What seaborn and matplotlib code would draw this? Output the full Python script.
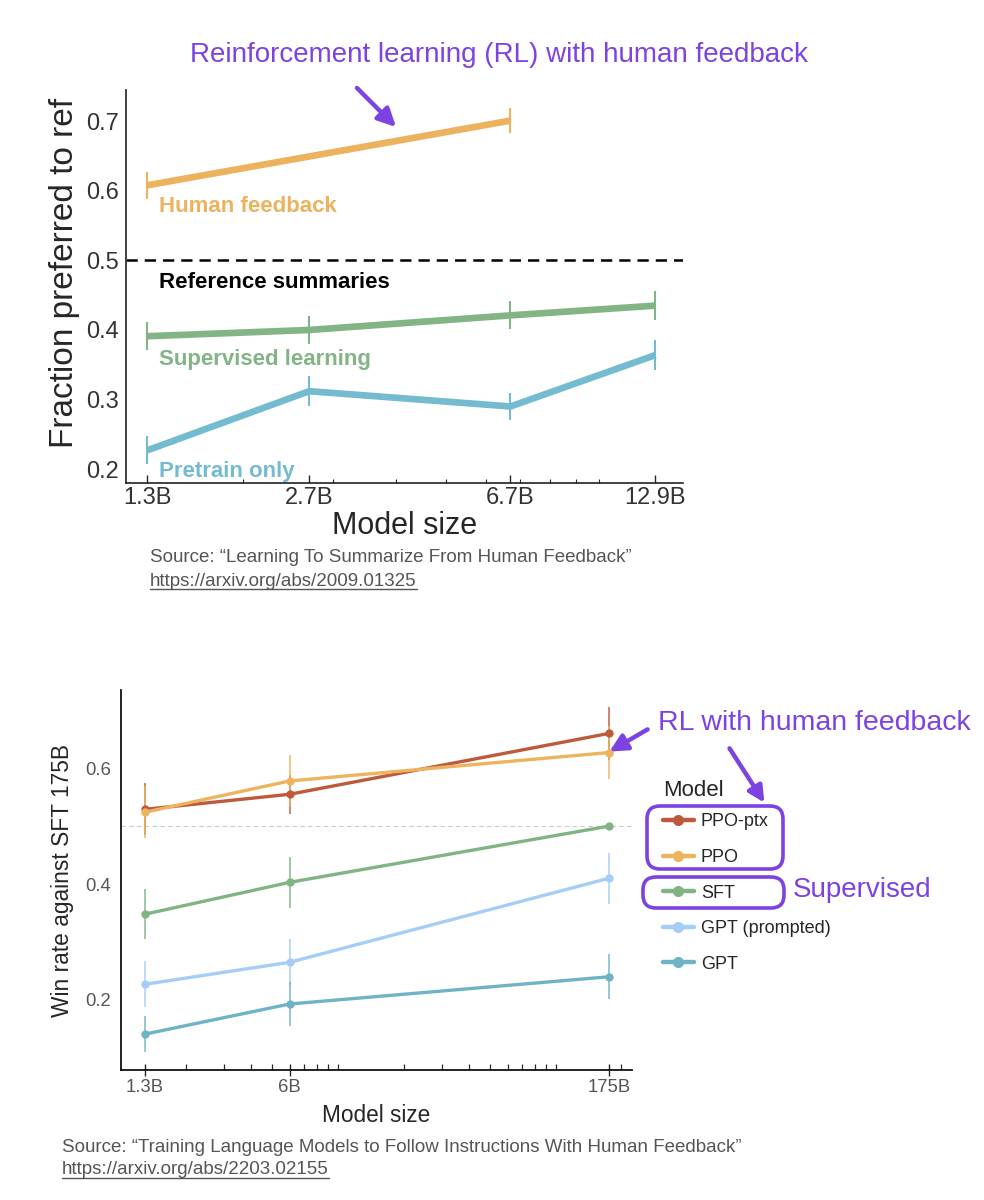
import matplotlib
matplotlib.use("Agg")
import matplotlib.pyplot as plt
import matplotlib.ticker as mticker
from matplotlib.patches import FancyBboxPatch, FancyArrowPatch
import pandas as pd
import seaborn as sns

# ---- top chart data (Learning to summarize) ----
top_sizes = [1.3, 2.7, 6.7, 12.9]
top_labels = ["1.3B", "2.7B", "6.7B", "12.9B"]
hf_sizes = [1.3, 6.7]
hf_vals = [0.608, 0.701]
hf_err = [0.019, 0.018]
sl_vals = [0.391, 0.400, 0.421, 0.435]
sl_err = [0.020, 0.020, 0.020, 0.021]
pt_vals = [0.227, 0.312, 0.290, 0.364]
pt_err = [0.020, 0.022, 0.020, 0.022]

# ---- bottom chart data (InstructGPT) ----
bot_sizes = [1.3, 6, 175]
bot_labels = ["1.3B", "6B", "175B"]
models = ["PPO-ptx", "PPO", "SFT", "GPT (prompted)", "GPT"]
ppo_ptx = [0.529, 0.555, 0.660]
ppo_ptx_err = [0.045, 0.034, 0.045]
ppo = [0.524, 0.578, 0.627]
ppo_err = [0.045, 0.045, 0.045]
sft = [0.348, 0.403, 0.500]
sft_err = [0.043, 0.044, 0.0]
gpt_prompted = [0.227, 0.265, 0.410]
gpt_prompted_err = [0.040, 0.040, 0.044]
gpt = [0.141, 0.193, 0.240]
gpt_err = [0.031, 0.038, 0.039]

top_colors = {"Human feedback": "#EDB25E", "Supervised learning": "#82B486",
              "Pretrain only": "#74BBCF"}
bot_colors = {"PPO-ptx": "#BD5A3C", "PPO": "#EDB35E", "SFT": "#80B482",
              "GPT (prompted)": "#A6CDF5", "GPT": "#6FB3C6"}
purple = "#7D42E2"

sns.set_theme(style="ticks")
plt.rcParams["font.family"] = ["Liberation Sans", "DejaVu Sans"]

fig = plt.figure(figsize=(9.84, 12), dpi=100)

# ================= top chart =================
top_rows = []
for s, v in zip(hf_sizes, hf_vals):
    top_rows.append({"size": s, "frac": v, "method": "Human feedback"})
for s, v in zip(top_sizes, sl_vals):
    top_rows.append({"size": s, "frac": v, "method": "Supervised learning"})
for s, v in zip(top_sizes, pt_vals):
    top_rows.append({"size": s, "frac": v, "method": "Pretrain only"})
df_top = pd.DataFrame(top_rows)

ax1 = fig.add_axes([0.128, 0.5975, 0.566, 0.3275])
ax1.set_xscale("log")
sns.lineplot(data=df_top, x="size", y="frac", hue="method", palette=top_colors,
             linewidth=4.8, legend=False, ax=ax1, solid_capstyle="butt")
for sizes, vals, errs, name in [(hf_sizes, hf_vals, hf_err, "Human feedback"),
                                (top_sizes, sl_vals, sl_err, "Supervised learning"),
                                (top_sizes, pt_vals, pt_err, "Pretrain only")]:
    ax1.vlines(sizes, [v - e for v, e in zip(vals, errs)],
               [v + e for v, e in zip(vals, errs)], color=top_colors[name], lw=1.5)

ax1.axhline(0.5, color="black", lw=1.8, dashes=(4.5, 2.8))
ax1.set_xlim(1.18, 14.6)
ax1.set_ylim(0.18, 0.745)
ax1.set_xticks(top_sizes)
ax1.set_xticklabels(top_labels)
ax1.xaxis.set_minor_locator(mticker.LogLocator(base=10, subs="all"))
ax1.xaxis.set_minor_formatter(mticker.NullFormatter())
ax1.set_yticks([0.2, 0.3, 0.4, 0.5, 0.6, 0.7])
ax1.tick_params(axis="x", which="major", direction="in", length=6, width=1, pad=3,
                labelsize=17, labelcolor="#333333")
ax1.tick_params(axis="x", which="minor", direction="in", length=3, width=0.8)
ax1.tick_params(axis="y", direction="in", length=0, pad=5, labelsize=17,
                labelcolor="#333333")
ax1.set_xlabel("Model size", fontsize=22, labelpad=1)
ax1.set_ylabel("Fraction preferred to ref", fontsize=24)
ax1.yaxis.set_label_coords(-0.083, 0.534)
for side in ["top", "right"]:
    ax1.spines[side].set_visible(False)
for side in ["left", "bottom"]:
    ax1.spines[side].set_linewidth(1.2)
    ax1.spines[side].set_color("#222222")

ax1.text(1.37, 0.577, "Human feedback", color=top_colors["Human feedback"],
         fontsize=16, fontweight="bold", va="center")
ax1.text(1.37, 0.468, "Reference summaries", color="black",
         fontsize=16, fontweight="bold", va="center")
ax1.text(1.37, 0.357, "Supervised learning", color=top_colors["Supervised learning"],
         fontsize=16, fontweight="bold", va="center")
ax1.text(1.37, 0.196, "Pretrain only", color=top_colors["Pretrain only"],
         fontsize=16, fontweight="bold", va="center")

# ================= bottom chart =================
bot_vals = {"PPO-ptx": ppo_ptx, "PPO": ppo, "SFT": sft,
            "GPT (prompted)": gpt_prompted, "GPT": gpt}
bot_errs = {"PPO-ptx": ppo_ptx_err, "PPO": ppo_err, "SFT": sft_err,
            "GPT (prompted)": gpt_prompted_err, "GPT": gpt_err}
bot_rows = []
for m in models:
    for s, v in zip(bot_sizes, bot_vals[m]):
        bot_rows.append({"size": s, "win": v, "Model": m})
df_bot = pd.DataFrame(bot_rows)

ax2 = fig.add_axes([0.123, 0.1083, 0.519, 0.3167])
ax2.set_xscale("log")
ax2.axhline(0.5, color="#cccccc", lw=0.8, ls=(0, (4, 3)), zorder=0)
for m in models:
    ax2.vlines(bot_sizes, [v - e for v, e in zip(bot_vals[m], bot_errs[m])],
               [v + e for v, e in zip(bot_vals[m], bot_errs[m])],
               color=bot_colors[m], lw=1.3, alpha=0.8)
sns.lineplot(data=df_bot, x="size", y="win", hue="Model", hue_order=models,
             palette=bot_colors, linewidth=2.4, marker="o", markersize=6,
             markeredgewidth=0, ax=ax2)

ax2.set_xlim(1.01, 223)
ax2.set_ylim(0.079, 0.735)
ax2.set_xticks(bot_sizes)
ax2.set_xticklabels(bot_labels)
ax2.xaxis.set_minor_locator(mticker.LogLocator(base=10, subs="all"))
ax2.xaxis.set_minor_formatter(mticker.NullFormatter())
ax2.set_yticks([0.2, 0.4, 0.6])
ax2.tick_params(axis="x", which="major", direction="inout", length=9, width=1,
                pad=2, labelsize=13.3, labelcolor="#555555")
ax2.tick_params(axis="x", which="minor", direction="in", length=4, width=0.9)
ax2.tick_params(axis="y", length=0, pad=7, labelsize=13.3, labelcolor="#555555")
ax2.set_xlabel("Model size", fontsize=16.3, labelpad=6)
ax2.set_ylabel("Win rate against SFT 175B", fontsize=16.4, labelpad=8)
for side in ["top", "right"]:
    ax2.spines[side].set_visible(False)
for side in ["left", "bottom"]:
    ax2.spines[side].set_linewidth(1.3)
    ax2.spines[side].set_color("#111111")

leg = ax2.legend(title="Model", loc="upper left",
                 bbox_to_anchor=(663 / 984, 1 - 780 / 1200),
                 bbox_transform=fig.transFigure, frameon=False, fontsize=13,
                 title_fontsize=16, borderpad=0, borderaxespad=0,
                 handlelength=1.7, handletextpad=0.4, labelspacing=1.03)
leg._legend_box.align = "left"
leg._legend_box.sep = 8.9
for h in leg.legend_handles:
    h.set_linewidth(3.2)
    h.set_markersize(8)

# ================= overlay annotations (pixel coordinates) =================
ov = fig.add_axes([0, 0, 1, 1])
ov.set_xlim(0, 984)
ov.set_ylim(1200, 0)
ov.axis("off")
ov.patch.set_alpha(0)

ov.text(499, 55, "Reinforcement learning (RL) with human feedback",
        color=purple, fontsize=20, ha="center", va="center")
ov.add_patch(FancyArrowPatch((355, 86), (398, 129), arrowstyle="-|>",
                             mutation_scale=27, color=purple, lw=3.2))

ov.text(658, 723, "RL with human feedback", color=purple, fontsize=20.5,
        ha="left", va="center")
ov.add_patch(FancyArrowPatch((650, 728), (607, 753), arrowstyle="-|>",
                             mutation_scale=26, color=purple, lw=3.2))
ov.add_patch(FancyArrowPatch((728, 746), (766, 805), arrowstyle="-|>",
                             mutation_scale=24, color=purple, lw=3.2))
ov.add_patch(FancyBboxPatch((647, 806), 136, 63,
                            boxstyle="round,pad=0,rounding_size=13",
                            fill=False, ec=purple, lw=2.6))
ov.add_patch(FancyBboxPatch((643, 877), 141, 31,
                            boxstyle="round,pad=0,rounding_size=13",
                            fill=False, ec=purple, lw=2.6))
ov.text(793, 890, "Supervised", color=purple, fontsize=20, ha="left",
        va="center")

src_color = "#555555"
ov.text(150, 558, "Source: \u201cLearning To Summarize From Human Feedback\u201d",
        color=src_color, fontsize=13.5, ha="left", va="center")
url1 = ov.text(150, 581, "https://arxiv.org/abs/2009.01325", color=src_color,
               fontsize=13.5, ha="left", va="center")
ov.text(62, 1147,
        "Source: \u201cTraining Language Models to Follow Instructions With Human Feedback\u201d",
        color=src_color, fontsize=13.5, ha="left", va="center")
url2 = ov.text(62, 1170, "https://arxiv.org/abs/2203.02155", color=src_color,
               fontsize=13.5, ha="left", va="center")

# underline the links
fig.canvas.draw()
inv = ov.transData.inverted()
for t in [url1, url2]:
    bb = t.get_window_extent()
    (x0, y0), (x1, _) = inv.transform([(bb.x0, bb.y0), (bb.x1, bb.y1)])
    ov.plot([x0, x1], [y0 - 1, y0 - 1], color=src_color, lw=1)

fig.savefig("out.png", dpi=100)
